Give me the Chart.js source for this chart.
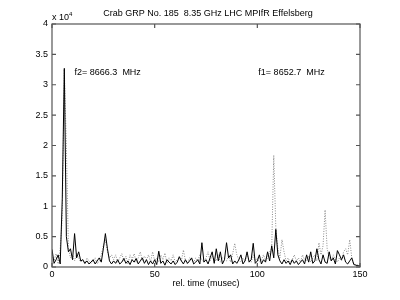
<!DOCTYPE html>
<html>
<head>
<meta charset="utf-8">
<script src="https://cdn.jsdelivr.net/npm/chart.js@4/dist/chart.umd.min.js"></script>
<style>
html,body{margin:0;padding:0;background:#fff;}
#wrap{width:400px;height:300px;}
</style>
</head>
<body>
<div id="wrap"><canvas id="grp" width="400" height="300"></canvas></div>
<script>
// intensity in units of 10^4, one sample per musec
const timeUs = Array.from({length:151}, (_, i) => i);

const f2Solid = [
0.29,0.06,0.12,0.2,0.05,1.13,3.27,0.5,0.25,0.3,
0.12,0.55,0.15,0.25,0.1,0.12,0.06,0.1,0.05,0.08,
0.12,0.05,0.1,0.15,0.08,0.3,0.55,0.3,0.1,0.05,
0.1,0.06,0.12,0.05,0.08,0.14,0.06,0.1,0.04,0.12,
0.08,0.14,0.05,0.1,0.15,0.06,0.12,0.04,0.1,0.05,
0.12,0.04,0.26,0.06,0.1,0.03,0.12,0.08,0.05,0.1,
0.04,0.08,0.17,0.1,0.05,0.12,0.06,0.1,0.15,0.05,
0.08,0.12,0.05,0.4,0.08,0.12,0.05,0.15,0.25,0.06,
0.3,0.1,0.25,0.05,0.12,0.4,0.15,0.2,0.05,0.1,
0.06,0.12,0.2,0.05,0.1,0.25,0.08,0.12,0.39,0.06,
0.1,0.2,0.05,0.12,0.08,0.25,0.1,0.35,0.15,0.62,
0.2,0.1,0.05,0.12,0.06,0.1,0.04,0.12,0.06,0.1,
0.04,0.08,0.12,0.05,0.2,0.08,0.25,0.06,0.1,0.3,
0.12,0.05,0.2,0.08,0.06,0.25,0.1,0.15,0.05,0.27,
0.2,0.12,0.2,0.08,0.05,0.1,0.15,0.04,0.03,0.02,
0.02];

const f1Dotted = [
0.2,0.1,0.22,0.05,0.3,0.8,3.25,2.0,0.3,0.15,
0.2,0.1,0.22,0.15,0.08,0.12,0.05,0.15,0.1,0.06,
0.1,0.15,0.05,0.1,0.2,0.35,0.45,0.25,0.15,0.2,
0.12,0.2,0.08,0.15,0.22,0.1,0.18,0.05,0.2,0.12,
0.22,0.08,0.15,0.25,0.1,0.18,0.12,0.2,0.08,0.25,
0.1,0.15,0.08,0.2,0.12,0.23,0.06,0.15,0.1,0.2,
0.08,0.12,0.15,0.1,0.28,0.1,0.05,0.15,0.12,0.08,
0.15,0.1,0.2,0.12,0.08,0.15,0.25,0.1,0.18,0.12,
0.1,0.2,0.08,0.15,0.12,0.1,0.18,0.08,0.22,0.39,
0.2,0.12,0.08,0.15,0.1,0.18,0.12,0.08,0.2,0.1,
0.15,0.08,0.12,0.2,0.1,0.15,0.25,0.3,1.84,0.65,
0.3,0.15,0.45,0.25,0.1,0.15,0.08,0.12,0.2,0.1,
0.15,0.08,0.2,0.12,0.1,0.18,0.08,0.15,0.2,0.1,
0.4,0.2,0.35,0.94,0.3,0.15,0.1,0.2,0.12,0.08,
0.15,0.1,0.25,0.3,0.2,0.45,0.15,0.05,0.04,0.03,
0.03];

const xTicks = [0,50,100,150];
const yTicks = [0,0.5,1,1.5,2,2.5,3,3.5,4];
const titleText = "Crab GRP No. 185  8.35 GHz LHC MPIfR Effelsberg";
const xLabel = "rel. time (musec)";
const f2Label = "f2= 8666.3  MHz";
const f1Label = "f1= 8652.7  MHz";

const FONT = "'Liberation Sans', Arial, sans-serif";

function pts(vals){
  return timeUs.map((t, i) => ({x:t, y:vals[i]}));
}

// box round the plot with inward ticks, matlab style
const frame = {
  id:"frame",
  afterDraw(chart){
    const ctx = chart.ctx;
    const a = chart.chartArea;
    const x = chart.scales.x, y = chart.scales.y;
    ctx.save();
    ctx.strokeStyle = "#555";
    ctx.lineWidth = 1.2;
    ctx.strokeRect(a.left, a.top, a.right - a.left, a.bottom - a.top);
    ctx.beginPath();
    xTicks.forEach(v => {
      const px = x.getPixelForValue(v);
      ctx.moveTo(px, a.bottom); ctx.lineTo(px, a.bottom - 4);
      ctx.moveTo(px, a.top); ctx.lineTo(px, a.top + 4);
    });
    yTicks.forEach(v => {
      const py = y.getPixelForValue(v);
      ctx.moveTo(a.left, py); ctx.lineTo(a.left + 4, py);
      ctx.moveTo(a.right, py); ctx.lineTo(a.right - 4, py);
    });
    ctx.stroke();

    ctx.fillStyle = "#000";
    ctx.font = "9px " + FONT;
    ctx.textBaseline = "middle";
    ctx.textAlign = "center";
    ctx.fillText(titleText, (a.left + a.right) / 2 + 2, a.top - 10);
    ctx.textAlign = "left";
    ctx.fillText(f2Label, x.getPixelForValue(11), y.getPixelForValue(3.2));
    ctx.fillText(f1Label, x.getPixelForValue(100.5), y.getPixelForValue(3.2));
    // exponent of the y axis
    ctx.fillText("x 10", a.left, a.top - 6);
    ctx.font = "6px " + FONT;
    ctx.fillText("4", a.left + 17, a.top - 10);
    ctx.restore();
  }
};

const chart = new Chart(document.getElementById("grp"), {
  type:"line",
  data:{
    datasets:[
      {label:"f2", data:pts(f2Solid), borderColor:"#000", borderWidth:1, pointRadius:0, tension:0},
      {label:"f1", data:pts(f1Dotted), borderColor:"#8a8a8a", borderWidth:1, borderDash:[1,1.5], pointRadius:0, tension:0}
    ]
  },
  options:{
    responsive:false,
    animation:false,
    events:[],
    layout:{padding:{left:0, right:40, top:24, bottom:0}},
    plugins:{
      legend:{display:false},
      tooltip:{enabled:false},
      title:{display:false}
    },
    scales:{
      x:{
        type:"linear",
        min:0, max:150,
        afterBuildTicks(s){ s.ticks = xTicks.map(v => ({value:v})); },
        afterFit(s){ s.height = 33; },
        grid:{display:false, drawTicks:false},
        border:{display:false},
        ticks:{color:"#000", font:{family:FONT, size:9}, padding:2, maxRotation:0,
               callback:v => String(v)},
        title:{display:true, text:xLabel, color:"#000", font:{family:FONT, size:9},
               padding:{top:1, bottom:11}}
      },
      y:{
        min:0, max:4,
        afterBuildTicks(s){ s.ticks = yTicks.map(v => ({value:v})); },
        afterFit(s){ s.width = 52; },
        grid:{display:false, drawTicks:false},
        border:{display:false},
        ticks:{color:"#000", font:{family:FONT, size:9}, padding:4,
               callback:v => String(v)}
      }
    }
  },
  plugins:[frame]
});
</script>
</body>
</html>
